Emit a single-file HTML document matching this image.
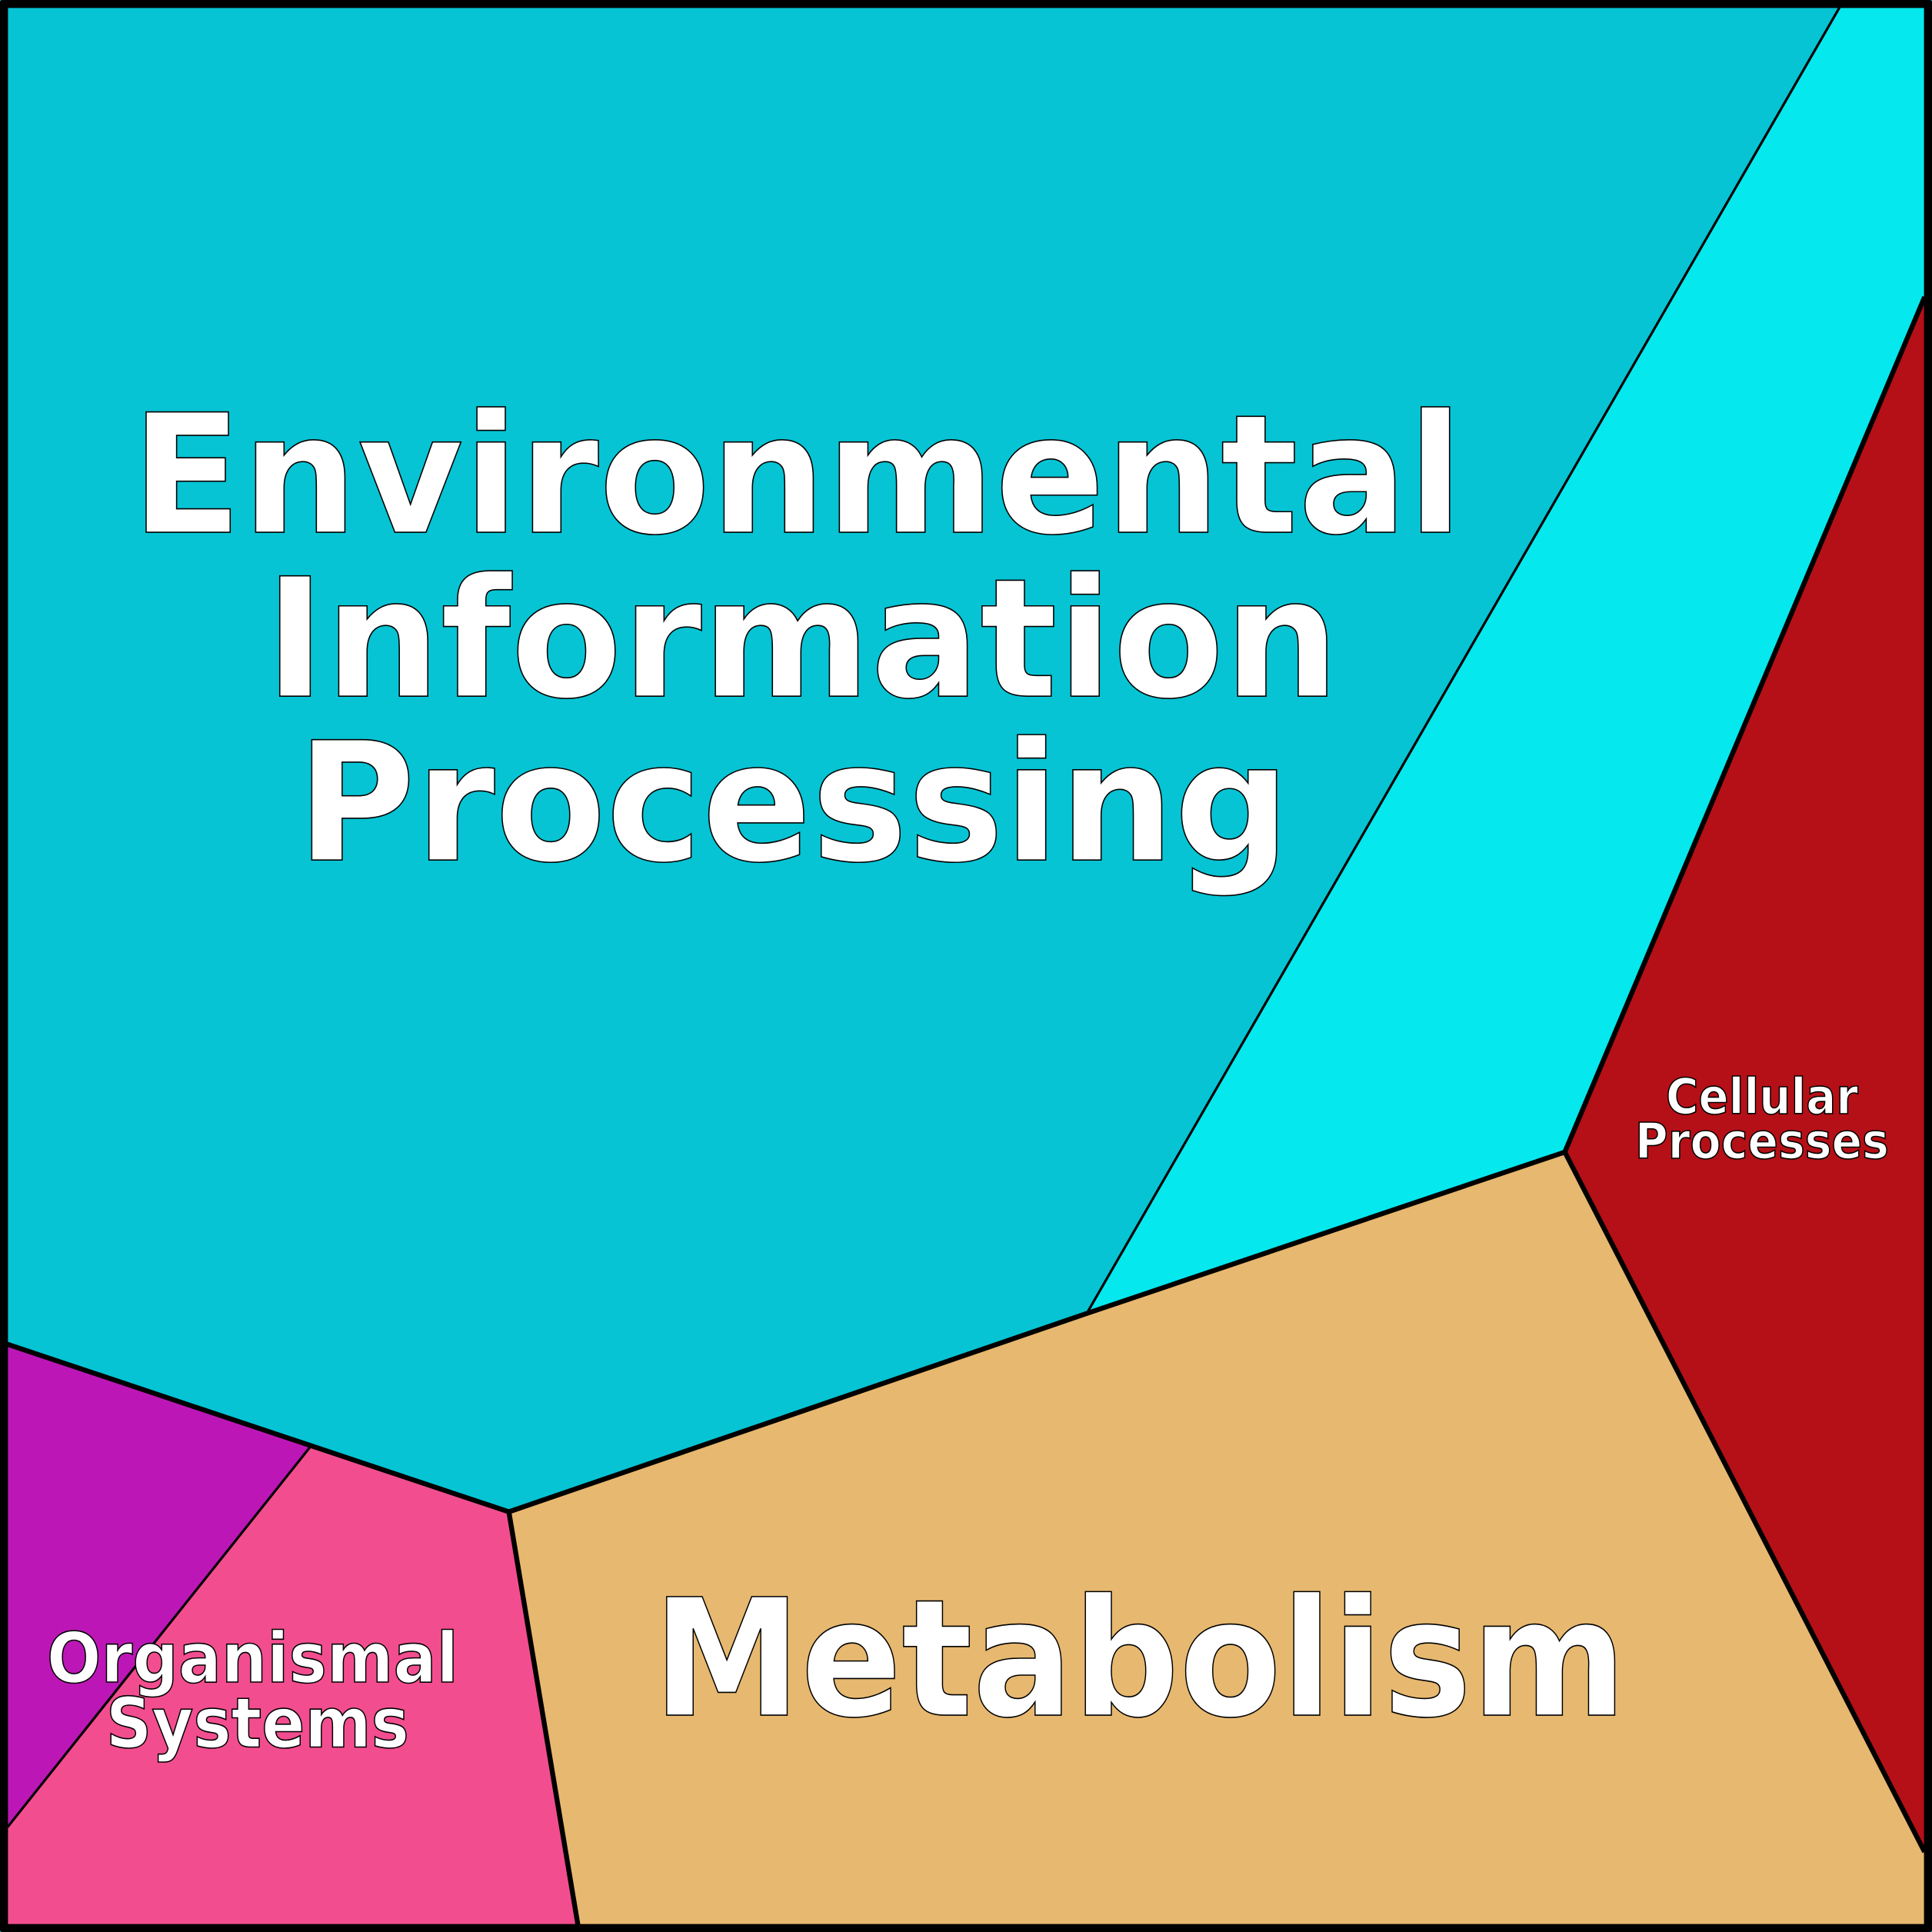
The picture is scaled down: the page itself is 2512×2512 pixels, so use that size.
<!DOCTYPE html>
<html><head><style>html,body{margin:0;padding:0;background:#fff}svg{display:block}</style></head>
<body>
<svg width="2512" height="2512" viewBox="0 0 1568 1568" xmlns="http://www.w3.org/2000/svg">
<rect x="0" y="0" width="1568" height="1568" fill="#06c4d4"/>
<polygon points="1493,6 1562,6 1562,241 1270,935 882,1066" fill="#05e8ee"/>
<polygon points="1562,241 1562,1503 1270,935" fill="#b51017"/>
<polygon points="413,1227 882,1066 1270,935 1562,1503 1562,1562 469,1562" fill="#e7b870"/>
<polygon points="6,1483 252,1174 413,1227 469,1562 6,1562" fill="#f24e8f"/>
<polygon points="6,1091 252,1174 6,1483" fill="#bc17b6"/>
<g stroke="#000" fill="none" stroke-linejoin="round">
<polyline points="6,1091 413,1227 882,1066 1270,935 1562,241" stroke-width="4"/>
<line x1="1270" y1="935" x2="1562" y2="1503" stroke-width="4"/>
<line x1="413" y1="1227" x2="469" y2="1562" stroke-width="4"/>
<line x1="252" y1="1174" x2="6" y2="1483" stroke-width="2"/>
<line x1="1493" y1="6" x2="882" y2="1066" stroke-width="2"/>
<rect x="3" y="3" width="1562" height="1562" stroke-width="7"/>
</g>
<g font-family="'DejaVu Sans','Liberation Sans',sans-serif" font-weight="bold" fill="#fff" stroke="#000" stroke-width="1" text-anchor="middle">
<text x="647" y="432" font-size="134" textLength="1081" lengthAdjust="spacingAndGlyphs">Environmental</text>
<text x="651" y="565" font-size="134" textLength="872" lengthAdjust="spacingAndGlyphs">Information</text>
<text x="644" y="698" font-size="134" textLength="806" lengthAdjust="spacingAndGlyphs">Processing</text>
<text x="925" y="1392" font-size="132" textLength="790" lengthAdjust="spacingAndGlyphs">Metabolism</text>
<text x="1430" y="904" font-size="40" textLength="156" lengthAdjust="spacingAndGlyphs">Cellular</text>
<text x="1430" y="940" font-size="40" textLength="206" lengthAdjust="spacingAndGlyphs">Processes</text>
<text x="205" y="1365" font-size="56" textLength="334" lengthAdjust="spacingAndGlyphs">Organismal</text>
<text x="209" y="1418" font-size="56" textLength="246" lengthAdjust="spacingAndGlyphs">Systems</text>
</g>
</svg>
</body></html>
